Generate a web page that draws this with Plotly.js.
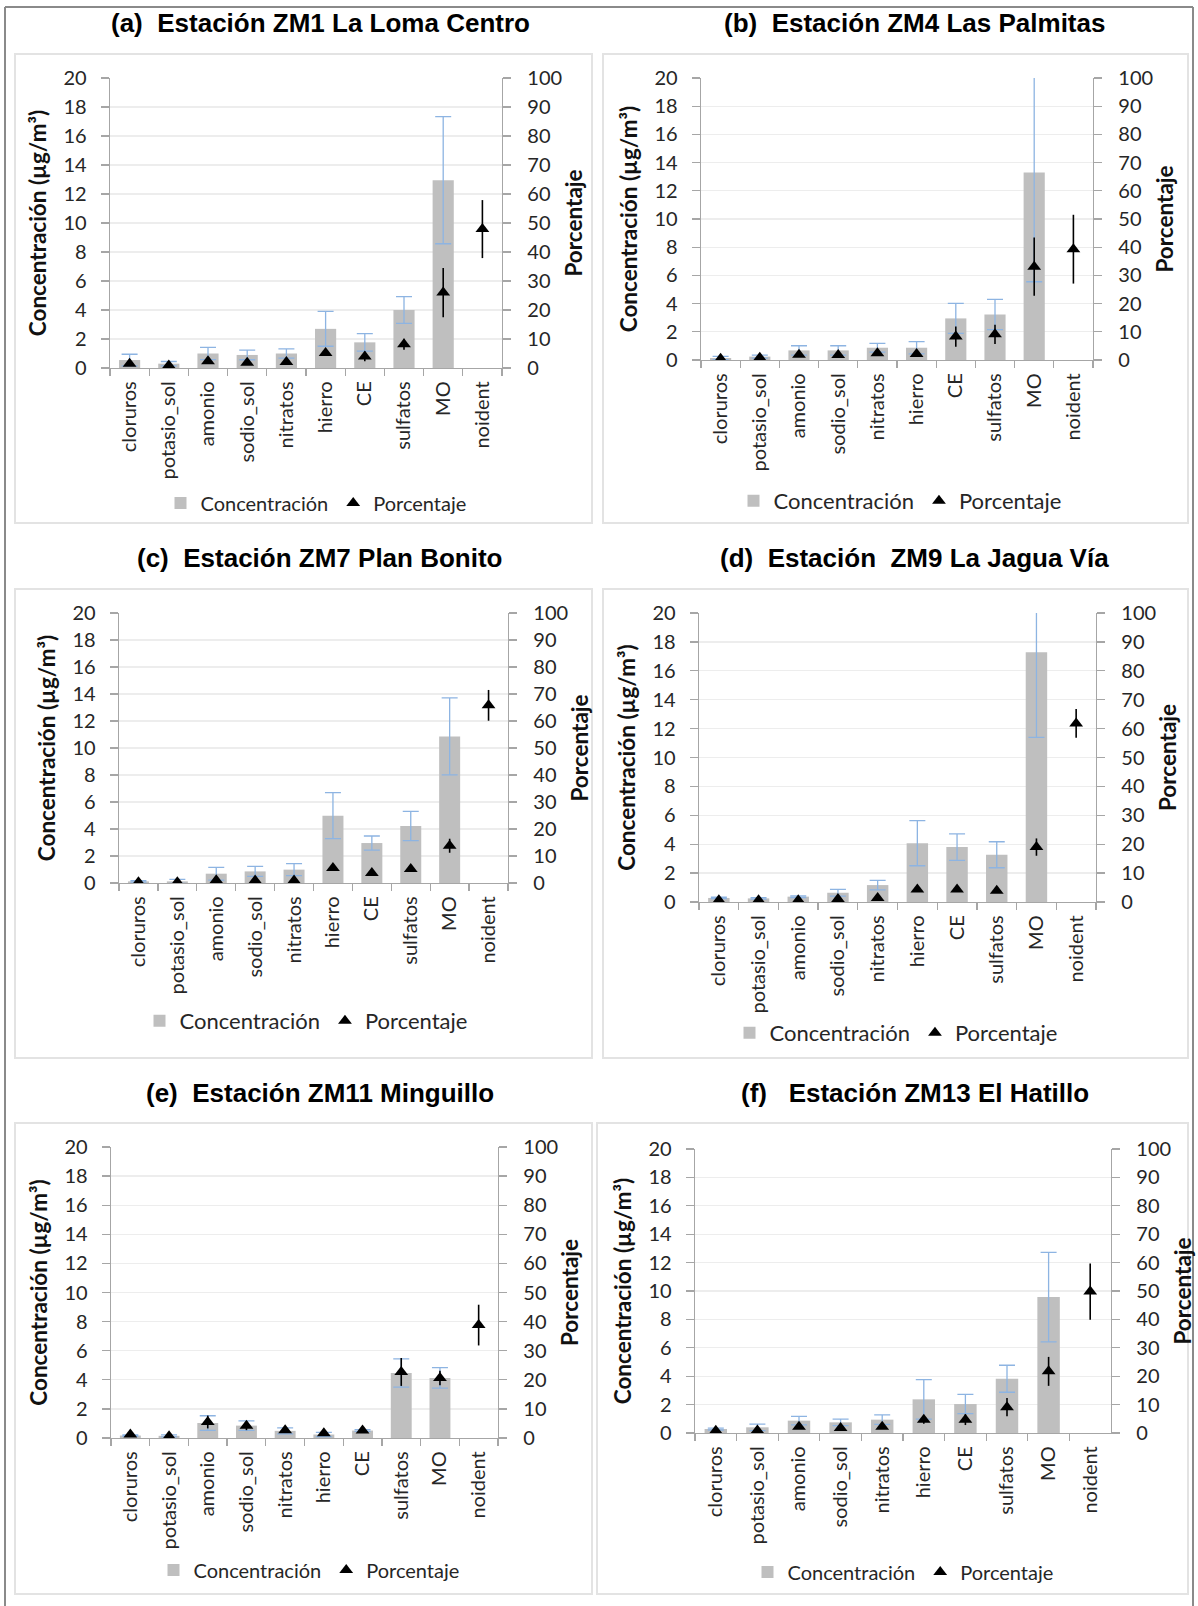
<!DOCTYPE html>
<html>
<head>
<meta charset="utf-8">
<script src="https://cdn.plot.ly/plotly-3.0.1.min.js"></script>
<style>
html,body{margin:0;padding:0;background:#fff;}
#chart{width:1198px;height:1606px;}
</style>
</head>
<body>
<div id="chart"></div>
<script>
// ---------------- DATA ----------------
const categories = ['cloruros','potasio_sol','amonio','sodio_sol','nitratos','hierro','CE','sulfatos','MO','noident'];
const yTicksConc = [0,2,4,6,8,10,12,14,16,18,20];
const yTicksPct = [0,10,20,30,40,50,60,70,80,90,100];
const seriesNames = ['Concentración','Porcentaje'];

const titles = [
  '(a)\u00A0 Estación ZM1 La Loma Centro',
  '(b)\u00A0 Estación ZM4 Las Palmitas',
  '(c)\u00A0 Estación ZM7 Plan Bonito',
  '(d)\u00A0 Estación\u00A0 ZM9 La Jagua Vía',
  '(e)\u00A0 Estación ZM11 Minguillo',
  '(f)\u00A0\u00A0 Estación ZM13 El Hatillo'
];

// (a) ZM1 La Loma Centro
const concA    = [0.55,0.30,1.00,0.90,1.00,2.70,1.77,4.00,12.95,null];
const concErrA = [0.40,0.15,0.42,0.33,0.32,1.20,0.60,0.92,4.38,null];
const pctA     = [1.5,0.9,2.3,1.8,2.1,5.2,4.0,8.2,26.0,47.9];
const pctErrA  = [0.3,0.2,0.5,0.4,0.5,1.0,1.7,1.9,8.5,10.0];
// (b) ZM4 Las Palmitas
const concB    = [0.14,0.24,0.68,0.68,0.87,0.87,2.95,3.23,13.29,null];
const concErrB = [0.12,0.10,0.33,0.33,0.31,0.43,1.06,1.07,7.74,null];
const pctB     = [0.4,0.8,1.9,1.8,2.4,2.1,8.3,9.1,33.1,39.3];
const pctErrB  = [0.2,0.2,0.5,0.5,0.6,0.7,3.6,3.4,10.3,12.2];
// (c) ZM7 Plan Bonito
const concC    = [0.12,0.12,0.69,0.86,0.99,4.99,2.96,4.22,10.86,null];
const concErrC = [0.05,0.15,0.47,0.37,0.44,1.70,0.52,1.08,2.85,null];
const pctC     = [0.3,0.3,1.0,0.9,0.9,5.6,3.7,5.2,13.8,65.8];
const pctErrC  = [0.1,0.1,0.3,0.3,0.3,0.8,0.6,0.8,2.6,5.7];
// (d) ZM9 La Jagua Vía
const concD    = [0.28,0.25,0.37,0.64,1.17,4.07,3.80,3.27,17.28,null];
const concErrD = [0.05,0.05,0.06,0.23,0.33,1.56,0.92,0.90,5.89,null];
const pctD     = [0.6,0.6,0.6,1.0,1.4,4.3,4.3,3.9,19.0,61.8];
const pctErrD  = [0.1,0.1,0.1,0.3,0.4,0.6,0.6,0.6,3.0,5.0];
// (e) ZM11 Minguillo
const concE    = [0.17,0.15,1.03,0.85,0.49,0.24,0.51,4.47,4.13,null];
const concErrE = [0.05,0.07,0.50,0.33,0.20,0.14,0.06,0.97,0.70,null];
const pctE     = [1.2,0.6,5.5,4.2,2.7,1.6,2.6,22.7,20.6,38.8];
const pctErrE  = [0.3,0.3,2.2,1.5,0.8,0.5,0.7,4.8,2.5,7.0];
// (f) ZM13 El Hatillo
const concF    = [0.28,0.40,0.87,0.75,0.94,2.37,2.04,3.82,9.57,null];
const concErrF = [0.07,0.23,0.30,0.23,0.33,1.39,0.68,0.95,3.15,null];
const pctF     = [0.8,0.9,2.2,1.8,2.2,4.7,4.7,9.1,21.7,49.8];
const pctErrF  = [0.3,0.5,0.8,0.6,0.8,1.4,1.9,3.2,5.1,9.9];

// ---------------- LAYOUT GEOMETRY (pixels) ----------------
const W = 1198, H = 1606;
const fx = x => x / W;
const fy = y => 1 - y / H;

const geom = [
  {plot:[110,502,78,368],  title:[320,23],   leg:[316,503],  legSize:20, box:[15,592,54,523]},
  {plot:[701,1093,78,360], title:[915,23],   leg:[900,501],  legSize:22, box:[603,1188,54,523]},
  {plot:[119,508,613,883], title:[319,558],  leg:[306,1021], legSize:22, box:[15,592,589,1058]},
  {plot:[699,1096,613,902],title:[915,558],  leg:[896,1033], legSize:22, box:[603,1188,589,1058]},
  {plot:[111,498,1147,1438],title:[320,1093],leg:[309,1570], legSize:20, box:[15,592,1123,1594]},
  {plot:[695,1111,1149,1433],title:[915,1093],leg:[903,1572],legSize:20, box:[597,1188,1123,1594]}
];

const panelData = [
  [concA,concErrA,pctA,pctErrA],
  [concB,concErrB,pctB,pctErrB],
  [concC,concErrC,pctC,pctErrC],
  [concD,concErrD,pctD,pctErrD],
  [concE,concErrE,pctE,pctErrE],
  [concF,concErrF,pctF,pctErrF]
];

const AXIS = '#A6A6A6';
const GRID = '#EDEDED';
const TXT = '#262626';
const tickFont = {family:'Lato, "Open Sans", sans-serif', size:20, color:TXT};
const axTitleFont = {family:'Lato, "Open Sans", sans-serif', size:22.5, color:'#111', weight:700};

const traces = [];
const layout = {
  width: W, height: H,
  margin:{l:0,r:0,t:0,b:0},
  paper_bgcolor:'#fff', plot_bgcolor:'rgba(0,0,0,0)',
  showlegend:true,
  barmode:'group',
  bargap:0.46,
  annotations:[], shapes:[]
};

// outer frame
layout.shapes.push(
  {type:'line', xref:'paper', yref:'paper', x0:fx(5), x1:fx(5), y0:fy(7), y1:fy(1606), line:{color:'#8a8a8a', width:2}},
  {type:'line', xref:'paper', yref:'paper', x0:fx(5), x1:fx(1193), y0:fy(7), y1:fy(7), line:{color:'#8a8a8a', width:2}},
  {type:'line', xref:'paper', yref:'paper', x0:fx(1193), x1:fx(1193), y0:fy(7), y1:fy(1606), line:{color:'#8a8a8a', width:2}}
);

panelData.forEach((pd, i) => {
  const g = geom[i];
  const n = i + 1;
  const xa = 'x' + (n === 1 ? '' : n);
  const yl = 'y' + (2*n - 1 === 1 ? '' : (2*n - 1));
  const yr = 'y' + (2*n);
  const legName = n === 1 ? 'legend' : 'legend' + n;

  traces.push({
    type:'bar', x:categories, y:pd[0], xaxis:xa, yaxis:yl,
    name:seriesNames[0], legend:legName,
    marker:{color:'#BFBFBF'},
    error_y:{type:'data', array:pd[1], visible:true, color:'#8DB4E2', thickness:1.3, width:8},
    hoverinfo:'skip'
  });
  traces.push({
    type:'scatter', mode:'markers', x:categories, y:pd[2], xaxis:xa, yaxis:yr,
    name:seriesNames[1], legend:legName,
    marker:{symbol:'triangle-up', size:12, color:'#000'},
    error_y:{type:'data', array:pd[3], visible:true, color:'#000', thickness:1.6, width:0},
    hoverinfo:'skip', cliponaxis:true
  });

  const xKey = 'xaxis' + (n === 1 ? '' : n);
  const ylKey = 'yaxis' + (2*n - 1 === 1 ? '' : (2*n - 1));
  const yrKey = 'yaxis' + (2*n);
  const [L,R,T,B] = g.plot;

  layout[xKey] = {
    domain:[fx(L), fx(R)], anchor:yl, type:'category',
    range:[-0.5, 9.5], tickson:'boundaries', ticks:'outside', ticklen:7, tickwidth:1.3,
    tickcolor:AXIS, showline:true, linecolor:AXIS, linewidth:1.3,
    tickangle:-90, tickfont:tickFont, showgrid:false, zeroline:false,
    ticklabelstandoff:4, fixedrange:true
  };
  layout[ylKey] = {
    domain:[fy(B), fy(T)], anchor:xa, range:[0,20], tickvals:yTicksConc, ticktext:yTicksConc.map(String),
    ticks:'outside', ticklen:8, tickwidth:1.3, tickcolor:AXIS,
    showline:true, linecolor:AXIS, linewidth:1.3,
    showgrid:true, gridcolor:GRID, gridwidth:1.3, zeroline:false,
    tickfont:tickFont, ticklabelstandoff:10,
    title:{text:'Concentración (µg/m³)', font:axTitleFont, standoff:10},
    fixedrange:true
  };
  layout[yrKey] = {
    overlaying:yl, side:'right', anchor:xa, range:[0,100], tickvals:yTicksPct, ticktext:yTicksPct.map(String),
    ticks:'outside', ticklen:8, tickwidth:1.3, tickcolor:AXIS,
    showline:true, linecolor:AXIS, linewidth:1.3,
    showgrid:false, zeroline:false,
    tickfont:tickFont, ticklabelstandoff:12,
    title:{text:'Porcentaje', font:axTitleFont, standoff:5},
    fixedrange:true
  };

  layout[legName] = {
    orientation:'h', x:fx(g.leg[0]), xanchor:'center', y:fy(g.leg[1]), yanchor:'middle',
    font:{family:'Lato, "Open Sans", sans-serif', size:g.legSize, color:TXT},
    bgcolor:'rgba(0,0,0,0)', itemwidth:30, traceorder:'normal'
  };

  layout.annotations.push({
    xref:'paper', yref:'paper', x:fx(g.title[0]), y:fy(g.title[1]), xanchor:'center', yanchor:'middle',
    text:'<b>' + titles[i] + '</b>', showarrow:false,
    font:{family:'"Liberation Sans", Arial, sans-serif', size:26, color:'#000'}
  });

  const [bx0,bx1,by0,by1] = g.box;
  layout.shapes.push({type:'rect', xref:'paper', yref:'paper', x0:fx(bx0), x1:fx(bx1), y0:fy(by1), y1:fy(by0),
    line:{color:'#E3E3E3', width:2}, fillcolor:'rgba(0,0,0,0)', layer:'below'});
});

Plotly.newPlot('chart', traces, layout, {displayModeBar:false, staticPlot:true});
</script>
</body>
</html>
